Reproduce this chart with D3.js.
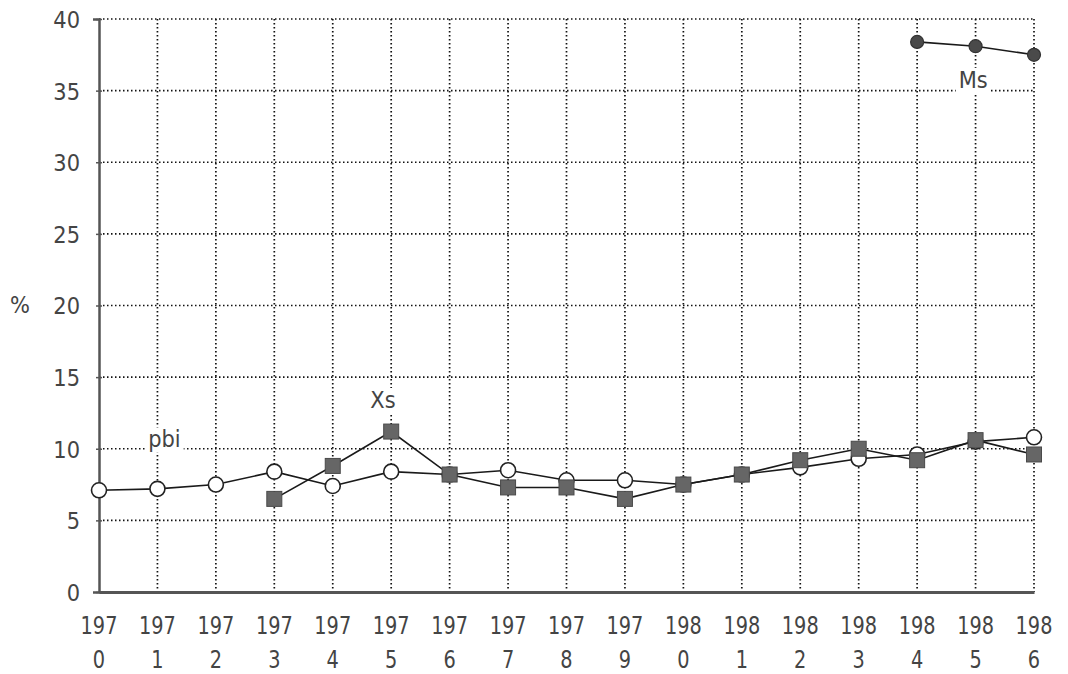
<!DOCTYPE html>
<html>
<head>
<meta charset="utf-8">
<script src="https://cdn.jsdelivr.net/npm/d3@7/dist/d3.min.js"></script>
<style>
  html, body { margin: 0; padding: 0; background: #fff; }
  svg { display: block; }
  text { font-family: "DejaVu Sans", sans-serif; fill: #444; }
</style>
</head>
<body>
<svg id="chart" width="1068" height="674"></svg>
<script>
// Years on the horizontal axis
const years = [1970, 1971, 1972, 1973, 1974, 1975, 1976, 1977, 1978, 1979, 1980, 1981, 1982, 1983, 1984, 1985, 1986];
// Series values, in percent (null where a series has no value)
const pbi = [7.1, 7.2, 7.5, 8.4, 7.4, 8.4, 8.2, 8.5, 7.8, 7.8, 7.5, 8.2, 8.7, 9.3, 9.6, 10.5, 10.8];
const xs  = [null, null, null, 6.5, 8.8, 11.2, 8.2, 7.3, 7.3, 6.5, 7.5, 8.2, 9.2, 10.0, 9.2, 10.6, 9.6];
const ms  = [null, null, null, null, null, null, null, null, null, null, null, null, null, null, 38.4, 38.1, 37.5];
// Y tick values
const yTicks = [0, 5, 10, 15, 20, 25, 30, 35, 40];

const svg = d3.select("#chart");
const plotLeft = 99, plotRight = 1034, plotTop = 19, plotBottom = 592;

const x = d3.scaleLinear().domain([1970, 1986]).range([plotLeft, plotRight]);
const y = d3.scaleLinear().domain([0, 40]).range([plotBottom, plotTop]);

// Dotted grid
const grid = svg.append("g")
  .attr("stroke", "#111").attr("stroke-width", 1.7)
  .attr("stroke-dasharray", "1.5,2.5").attr("fill", "none");
grid.selectAll("line.h").data(yTicks.filter(d => d > 0)).join("line")
  .attr("class", "h")
  .attr("x1", plotLeft).attr("x2", plotRight)
  .attr("y1", d => y(d)).attr("y2", d => y(d));
grid.selectAll("line.v").data(years.slice(1)).join("line")
  .attr("class", "v")
  .attr("x1", d => x(d)).attr("x2", d => x(d))
  .attr("y1", y(40)).attr("y2", y(0));

// Y axis
const yAxis = d3.axisLeft(y).tickValues(yTicks).tickSize(6).tickPadding(13).tickFormat(d3.format("d"));
const gy = svg.append("g").attr("transform", `translate(${plotLeft},0)`).call(yAxis);
gy.attr("font-family", null).attr("font-size", null);
gy.select(".domain").attr("stroke", "#555").attr("stroke-width", 2.5);
gy.selectAll(".tick line").attr("stroke", "#555").attr("stroke-width", 1.5).attr("transform", "translate(3,0)");
gy.selectAll(".tick text").attr("font-size", 21).attr("fill", "#444").attr("dy", "0.36em")
  .attr("transform", "scale(1,1.12)");

// X axis
const xAxis = d3.axisBottom(x).tickValues(years).tickSize(0).tickFormat(() => "");
const gx = svg.append("g").attr("transform", `translate(0,${plotBottom})`).call(xAxis);
gx.select(".domain").attr("stroke", "#555").attr("stroke-width", 3);

// Two-line year labels: first three digits above, last digit below
const yearLabels = svg.append("g").attr("font-size", 21).attr("text-anchor", "middle");
yearLabels.selectAll("text.top").data(years).join("text")
  .attr("class", "top")
  .attr("transform", d => `translate(${x(d)},625) scale(0.92,1.2)`)
  .attr("dy", "0.36em")
  .text(d => String(d).slice(0, 3));
yearLabels.selectAll("text.bot").data(years).join("text")
  .attr("class", "bot")
  .attr("transform", d => `translate(${x(d)},659) scale(0.92,1.2)`)
  .attr("dy", "0.36em")
  .text(d => String(d).slice(3));

// Axis unit
svg.append("text").attr("transform", "translate(20,305) scale(1,1.12)").attr("dy", "0.36em")
  .attr("text-anchor", "middle").attr("font-size", 21).text("%");

// Series lines
function seriesData(vals) {
  return years.map((yr, i) => ({ yr, v: vals[i] }));
}
const line = d3.line().defined(d => d.v != null).x(d => x(d.yr)).y(d => y(d.v));
[pbi, xs, ms].forEach(vals => {
  svg.append("path").datum(seriesData(vals))
    .attr("fill", "none").attr("stroke", "#1a1a1a").attr("stroke-width", 1.6)
    .attr("d", line);
});

// Markers
svg.append("g").selectAll("circle").data(seriesData(pbi).filter(d => d.v != null)).join("circle")
  .attr("cx", d => x(d.yr)).attr("cy", d => y(d.v)).attr("r", 7.5)
  .attr("fill", "#fff").attr("stroke", "#222").attr("stroke-width", 1.6);

svg.append("g").selectAll("rect").data(seriesData(xs).filter(d => d.v != null)).join("rect")
  .attr("x", d => x(d.yr) - 7.5).attr("y", d => y(d.v) - 7.5)
  .attr("width", 15).attr("height", 15)
  .attr("fill", "#666").attr("stroke", "#4a4a4a").attr("stroke-width", 1);

svg.append("g").selectAll("circle").data(seriesData(ms).filter(d => d.v != null)).join("circle")
  .attr("cx", d => x(d.yr)).attr("cy", d => y(d.v)).attr("r", 6.5)
  .attr("fill", "#4a4a4a").attr("stroke", "#333").attr("stroke-width", 1.2);

// Series labels on a white background
const labels = [
  { text: "pbi", yr: 1971.12, v: 10.1 },
  { text: "Xs", yr: 1974.86, v: 12.85 },
  { text: "Ms", yr: 1984.96, v: 35.2 }
];
const lg = svg.append("g").attr("font-size", 21).attr("text-anchor", "middle");
labels.forEach(l => {
  const cell = lg.append("g").attr("transform", `translate(${x(l.yr)},${y(l.v)}) scale(1,1.12)`);
  const t = cell.append("text").text(l.text);
  const b = t.node().getBBox();
  cell.insert("rect", () => t.node())
    .attr("x", b.x - 3).attr("y", b.y + 2).attr("width", b.width + 6).attr("height", b.height - 2)
    .attr("fill", "#fff");
});
</script>
</body>
</html>
